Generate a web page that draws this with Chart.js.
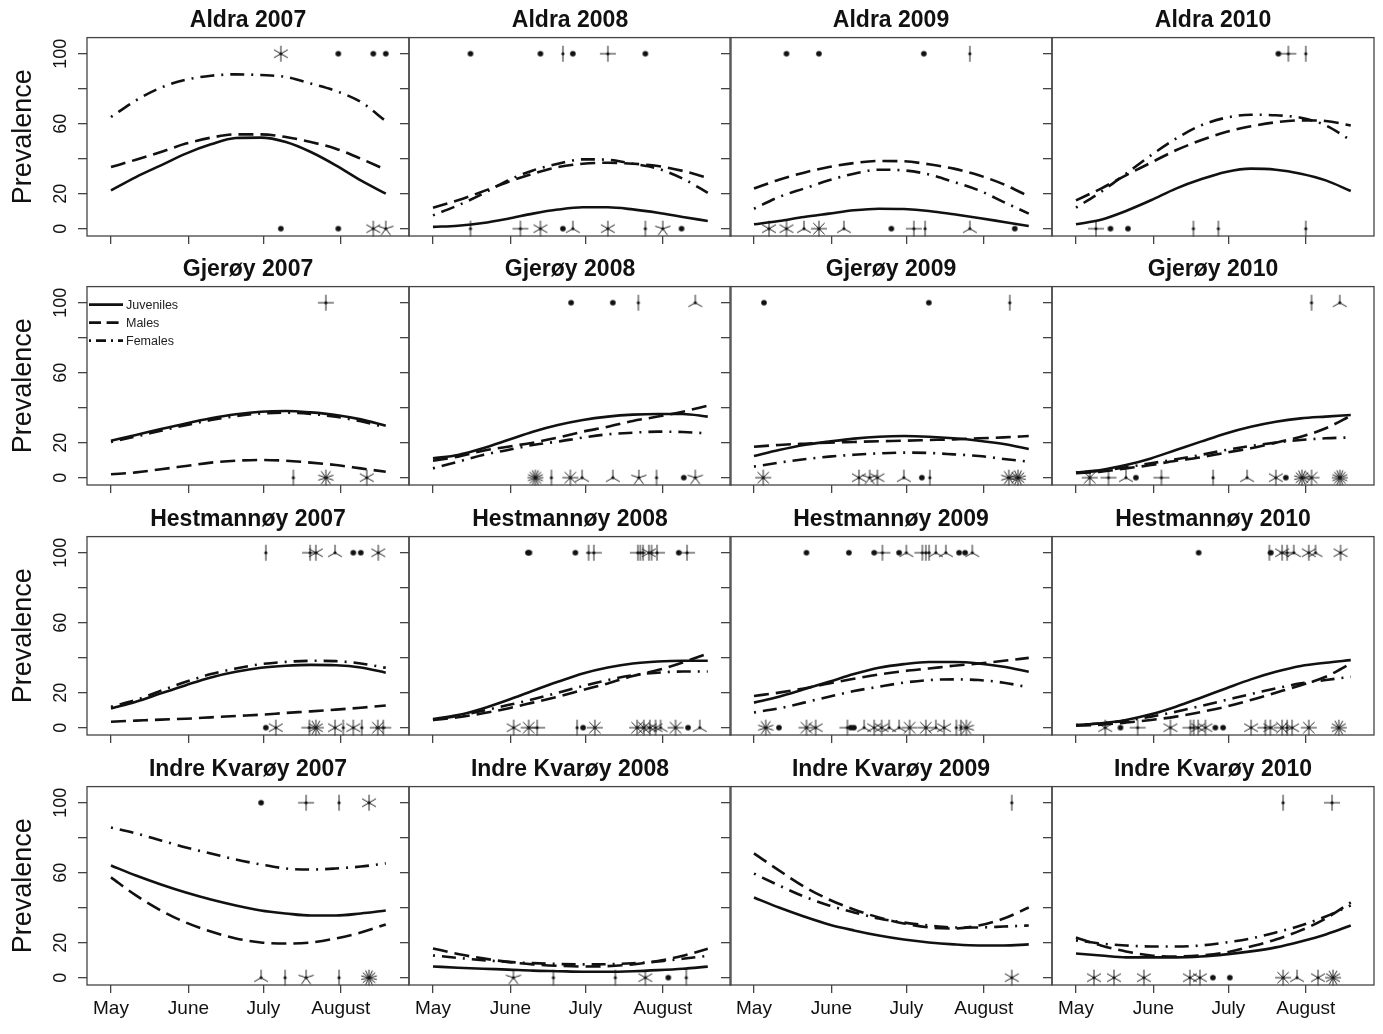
<!DOCTYPE html>
<html>
<head>
<meta charset="utf-8">
<title>Prevalence by site and year</title>
<script src="https://cdn.jsdelivr.net/npm/chart.js@4.4.1/dist/chart.umd.min.js"></script>
<style>
  html, body { margin: 0; padding: 0; background: #fff; }
  #board { position: relative; width: 1383px; height: 1034px; overflow: hidden; }
  #board canvas { position: absolute; }
</style>
</head>
<body>
<div id="board"></div>
<script>
const panelTitles = [
  'Aldra 2007', 'Aldra 2008', 'Aldra 2009', 'Aldra 2010',
  'Gjerøy 2007', 'Gjerøy 2008', 'Gjerøy 2009', 'Gjerøy 2010',
  'Hestmannøy 2007', 'Hestmannøy 2008', 'Hestmannøy 2009', 'Hestmannøy 2010',
  'Indre Kvarøy 2007', 'Indre Kvarøy 2008', 'Indre Kvarøy 2009', 'Indre Kvarøy 2010'
];

// days since 1 May at which the fitted curves were read
const curveDays = [0, 10, 20, 30, 40, 50, 60, 70, 80, 90, 100, 110];

const juveniles = [
  [21.9, 29.5, 36.2, 42.9, 48.2, 51.8, 52.0, 49.5, 43.8, 36.2, 27.6, 20],
  [1, 1.7, 3.2, 5.7, 8.6, 10.9, 12.2, 12.2, 11, 9.1, 6.7, 4.4],
  [2.5, 4.4, 6.7, 8.6, 10.5, 11.4, 11.2, 10.1, 8.2, 6.1, 3.8, 1.5],
  [2.5, 5.1, 10.1, 16.2, 22.9, 28.2, 32.4, 34.3, 33.7, 31.4, 27.6, 21.5],
  [21.1, 24.4, 27.8, 31, 33.9, 36.2, 37.7, 38.1, 37.3, 35.8, 33.3, 29.7],
  [11, 13, 16.8, 21.5, 26.3, 30.1, 33, 34.9, 36, 36.4, 36.4, 34.9],
  [12.4, 15.8, 18.7, 20.6, 22.3, 23.4, 23.8, 23.4, 22.5, 21.1, 19.2, 16.4],
  [2.9, 4.4, 7.2, 11, 15.8, 20.6, 25.3, 29.1, 32, 33.9, 34.9, 35.8],
  [11, 14.8, 19.6, 24.3, 28.7, 31.9, 34.2, 35.4, 35.9, 35.7, 34.4, 31.4],
  [4.9, 7.2, 11, 15.8, 21.1, 26.2, 31, 34.4, 36.7, 37.8, 38.2, 38.2],
  [14.3, 17.7, 21.9, 26.2, 30.6, 34.2, 36.3, 37.5, 37.5, 36.7, 34.8, 31.9],
  [1.5, 2.5, 4.4, 7.6, 12, 17.1, 22.4, 27.6, 31.9, 35.2, 37.1, 38.6],
  [64.1, 58.4, 53.3, 48.7, 44.7, 41.3, 38.4, 36.7, 35.5, 35.5, 36.7, 38.4],
  [6.4, 5.7, 5.1, 4.6, 4, 3.7, 3.4, 3.4, 3.7, 4.3, 5.1, 6.3],
  [45.8, 40.1, 35, 30.4, 27, 24.1, 21.8, 20.1, 19, 18.4, 18.4, 19],
  [13.8, 12.7, 11.6, 11.6, 11.6, 12.1, 13.3, 15, 17.3, 20.7, 24.7, 29.8]
];

const males = [
  [35.2, 39.4, 43.8, 48.6, 52, 53.9, 53.9, 52.4, 49.5, 45.7, 40, 33.7],
  [12, 16.2, 21.3, 26.7, 31.4, 35.2, 37.1, 37.7, 37.1, 35.8, 33, 29],
  [22.9, 28, 32, 35.2, 37.5, 38.7, 38.5, 36.8, 34.3, 30.5, 25.3, 18.5],
  [16.2, 22.9, 30.5, 37.7, 44.8, 50.5, 55.2, 58.5, 60.8, 61.9, 61.5, 59],
  [1.9, 3, 4.8, 6.7, 8.6, 9.7, 10.1, 9.7, 8.6, 7.2, 5.3, 3.4],
  [9.7, 12, 15.4, 17.7, 20, 22.9, 26.3, 29.1, 32.4, 34.9, 37.7, 41.1],
  [17.7, 18.7, 19.4, 20, 20.4, 20.8, 21.1, 21.5, 21.9, 22.5, 23, 23.8],
  [2.5, 3.4, 5.3, 7.2, 9.7, 11.6, 14.3, 16.8, 20, 23.4, 28.2, 35.4],
  [3.4, 4, 4.6, 5.1, 5.9, 6.7, 7.4, 8.4, 9.3, 10.3, 11.4, 12.7],
  [4.4, 5.9, 8.2, 11, 14.3, 17.7, 21.5, 25.3, 29.5, 32.9, 37.3, 42.4],
  [18.1, 20, 22.4, 25.3, 27.9, 30.4, 32.3, 33.8, 35.4, 36.7, 38.2, 39.9],
  [1.1, 1.7, 2.9, 4.4, 6.3, 8.9, 12, 15.8, 20, 24.3, 29.1, 36.7],
  [57.3, 47, 38.4, 31.5, 26.4, 22.4, 20.1, 19.5, 20.1, 22.4, 25.8, 30.4],
  [16.7, 13.5, 11, 9, 7.6, 6.8, 6.4, 6.6, 7.6, 9.5, 12.5, 16.5],
  [71, 61.3, 52.1, 44.7, 39, 34.4, 31, 28.7, 28.1, 29.8, 33.8, 40.1],
  [23, 18.4, 15, 12.7, 12.1, 12.7, 14.4, 17.8, 21.8, 27, 33.8, 43]
];

const females = [
  [63.8, 73.3, 80.6, 85.1, 87.4, 88.2, 87.8, 86.7, 82.9, 78.7, 72.4, 61.5],
  [7.6, 13.3, 20, 27.6, 33.3, 37.1, 39.6, 39.4, 37.1, 34.3, 28.6, 20.5],
  [11.4, 18.1, 22.9, 27.6, 31.4, 33.7, 33.3, 31, 26.7, 21.9, 15.2, 8.6],
  [12, 21, 31.4, 41.9, 51.4, 59, 63.4, 65.1, 64.8, 63.4, 59, 50.5],
  [20.4, 23.5, 26.8, 30, 32.9, 35.2, 36.7, 37.1, 36.4, 34.8, 32.2, 28.8],
  [5.3, 9.1, 13, 15.8, 18.7, 20.6, 22.9, 24.8, 25.7, 26.3, 26.1, 25.3],
  [6.3, 8.6, 10.5, 12, 13.1, 13.9, 14.3, 14.1, 13.3, 12.4, 10.7, 9.1],
  [2.9, 4, 5.9, 8.2, 10.5, 13, 15.8, 18.1, 20, 21.5, 22.5, 23],
  [12, 15.8, 21.1, 26.2, 30.6, 33.8, 36.3, 37.6, 38.2, 38, 36.7, 34.2],
  [4.4, 6.7, 9.7, 12.9, 16.2, 20, 23.8, 27.2, 30, 31.4, 32.1, 32.1],
  [8.7, 11, 14.3, 17.7, 20.9, 23.4, 25.7, 27.2, 27.6, 27.2, 25.7, 23],
  [1.5, 2.5, 4, 6.3, 9.1, 12.4, 15.8, 19.2, 22.4, 25.3, 27.2, 29.1],
  [85.8, 82.4, 78.4, 74.4, 71, 67.5, 64.7, 62.4, 61.8, 62.4, 63.5, 65.3],
  [12.7, 11.3, 10, 9, 8.3, 7.8, 7.6, 7.7, 8.2, 9.2, 10.8, 12.5],
  [59.5, 52.7, 46.4, 41.3, 37.3, 33.8, 31.5, 29.8, 28.7, 28.7, 29.2, 29.8],
  [21.3, 19.5, 18.4, 17.8, 17.8, 18.4, 20.1, 22.4, 25.8, 29.8, 35, 41.3]
];

// sunflower points: [day since 1 May, number of fish at that spot]
const topFlowers = [
  [[68, 6], [91, 1], [105, 1], [110, 1]],
  [[15, 1], [43, 1], [52, 2], [56, 1], [70, 4], [85, 1]],
  [[13, 1], [26, 1], [68, 1], [86.4, 2]],
  [[81, 1], [85, 4], [92, 2]],
  [[86, 4]],
  [[55.3, 1], [72, 1], [82.2, 2], [105, 3]],
  [[4, 1], [70, 1], [102.4, 2]],
  [[94.3, 2], [105.6, 3]],
  [[62, 2], [79.7, 4], [82, 6], [89.7, 3], [97, 1], [100, 1], [107, 6]],
  [[38, 1], [38.6, 1], [57, 1], [62.3, 2], [64.4, 4], [82, 4], [83, 2], [84.1, 2], [86.4, 6], [87.5, 2], [89.7, 4], [98.4, 1], [101.7, 4]],
  [[21, 1], [38, 1], [48.1, 1], [51.4, 4], [58.1, 1], [61, 3], [67.4, 4], [68.8, 2], [70.1, 2], [72.8, 3], [76.8, 3], [82.1, 1], [84.5, 1], [87.4, 3]],
  [[49.1, 1], [77.4, 2], [78, 1], [82.5, 6], [84.5, 4], [87.2, 3], [93.2, 6], [95.9, 3], [105.9, 6]],
  [[60.1, 1], [78.1, 4], [91.3, 2], [103.3, 6]],
  [],
  [[103.2, 2]],
  [[82.9, 2], [102.5, 4]]
];

const bottomFlowers = [
  [[68, 1], [91, 1], [105, 6], [110, 5]],
  [[15, 2], [35, 4], [43, 6], [52, 1], [56, 3], [70, 6], [85, 2], [92, 5], [99.5, 1]],
  [[6, 6], [13, 6], [20, 3], [26, 8], [36, 3], [55, 1], [64, 4], [68.5, 2], [86.4, 3], [104.4, 1]],
  [[8, 4], [13.8, 1], [20.8, 1], [47, 2], [57, 2], [92, 2]],
  [[73, 2], [86, 10], [102.4, 6]],
  [[41, 16], [47.4, 2], [55, 8], [59.7, 3], [72, 3], [82.4, 5], [89.5, 2], [100.4, 1], [105, 5]],
  [[3.7, 8], [42, 6], [46.3, 5], [49.4, 6], [60, 3], [67.2, 1], [70.4, 2], [102, 10], [105.7, 14]],
  [[5.5, 8], [13, 4], [20, 3], [24, 1], [34.2, 4], [54.9, 2], [68.5, 3], [80, 6], [84, 1], [90.5, 14], [94.3, 8], [105.6, 16]],
  [[62, 1], [66, 6], [79.4, 4], [82, 12], [89.7, 6], [93, 2], [97, 6], [100.4, 2], [106.8, 8], [109, 4]],
  [[32.3, 6], [38.3, 8], [41.7, 4], [57.7, 2], [60.1, 1], [64.8, 8], [81.7, 8], [84.4, 8], [86.8, 6], [89.1, 6], [91.1, 3], [97.1, 8], [102.1, 1], [106.8, 3]],
  [[4.7, 10], [10, 1], [21, 8], [24.7, 6], [37.4, 4], [38.7, 1], [40, 1], [44.1, 3], [48.1, 6], [51.1, 6], [54.1, 3], [58.1, 3], [62.3, 8], [68.8, 8], [72.8, 3], [76.1, 6], [81, 2], [82.8, 2], [85, 10]],
  [[11.7, 6], [17.8, 1], [24.7, 4], [37.8, 6], [45.8, 4], [47.1, 2], [48.9, 6], [51.8, 6], [55.8, 1], [58.9, 1], [70.1, 6], [75.8, 4], [77.8, 6], [82.5, 8], [84.5, 2], [86.5, 6], [93.2, 8], [105.2, 12]],
  [[60.1, 3], [69.7, 2], [78.1, 5], [91.3, 2], [103.3, 14]],
  [[32.2, 5], [48.2, 2], [73, 2], [85, 6], [94.2, 1], [101.4, 2]],
  [[103.2, 6]],
  [[7.2, 6], [15.2, 6], [27.2, 6], [45.6, 6], [49.6, 6], [54.8, 1], [61.6, 1], [82.9, 8], [88.5, 3], [96.9, 6], [102.9, 12]]
];

const monthDays = [0, 31, 61, 92];
const monthLabels = ['May', 'June', 'July', 'August'];
const yTicks = [0, 20, 40, 60, 80, 100];
const yLabelsShown = [0, 20, 60, 100];
const legendNames = ['Juveniles', 'Males', 'Females'];

const FONT = "'Liberation Sans', Arial, Helvetica, sans-serif";
const INK = '#111';
const FRAME = '#444';
const DASHES = [[], [15, 7], [2, 7, 14, 7]];

// panel geometry (plot boxes touch each other)
const PLOT_LEFT = 87, PLOT_TOP = 37.4, PLOT_W = 321.7, ROW_STEP = 249.6;
const AXIS_W = 87, TITLE_H = 36.6, AXIS_H = 50, PAD_R = 3;
const CANVAS_W = 412, CANVAS_H = 285;

const flowerCache = {};
function flowerImage(n) {
  if (flowerCache[n]) return flowerCache[n];
  const size = 22, c = size / 2, petal = 8;
  const cv = document.createElement('canvas');
  cv.width = size;
  cv.height = size;
  const g = cv.getContext('2d');
  if (n > 1) {
    g.strokeStyle = '#222';
    g.lineWidth = 1;
    for (let k = 1; k <= n; k++) {
      const a = 2 * Math.PI * k / n;
      g.beginPath();
      g.moveTo(c, c);
      g.lineTo(c + petal * Math.sin(a), c - petal * Math.cos(a));
      g.stroke();
    }
  }
  g.fillStyle = INK;
  g.beginPath();
  g.arc(c, c, n > 1 ? 1.6 : 2.8, 0, Math.PI * 2);
  g.fill();
  flowerCache[n] = cv;
  return cv;
}

const framePlugin = {
  id: 'frame',
  afterDraw(chart) {
    const { ctx, chartArea: a } = chart;
    ctx.save();
    ctx.strokeStyle = FRAME;
    ctx.lineWidth = 1.3;
    ctx.strokeRect(a.left, a.top, a.right - a.left, a.bottom - a.top);
    ctx.restore();
  }
};

// legend sits inside the Gjerøy 2007 panel only
const legendPlugin = {
  id: 'innerLegend',
  afterDraw(chart, args, opts) {
    if (!opts.show) return;
    const { ctx, chartArea: a } = chart;
    ctx.save();
    ctx.font = '12.5px ' + FONT;
    ctx.textBaseline = 'middle';
    legendNames.forEach((name, k) => {
      const y = a.top + 18 + k * 18;
      ctx.strokeStyle = INK;
      ctx.lineWidth = 2.6;
      ctx.setLineDash(k === 2 ? [2, 5, 10, 5] : DASHES[k].map(v => v * 0.8));
      ctx.beginPath();
      ctx.moveTo(a.left + 2, y);
      ctx.lineTo(a.left + 36, y);
      ctx.stroke();
      ctx.setLineDash([]);
      ctx.fillStyle = '#222';
      ctx.fillText(name, a.left + 39, y + 1);
    });
    ctx.restore();
  }
};

function curveDataset(values, dash) {
  return {
    type: 'line',
    data: curveDays.map((d, k) => ({ x: d, y: values[k] })),
    borderColor: INK,
    borderWidth: 2.6,
    borderDash: dash,
    cubicInterpolationMode: 'monotone',
    pointRadius: 0,
    fill: false
  };
}

function flowerDataset(top, bottom) {
  const pts = top.map(([d, n]) => ({ x: d, y: 100, n }))
    .concat(bottom.map(([d, n]) => ({ x: d, y: 0, n })));
  return {
    type: 'line',
    showLine: false,
    data: pts,
    clip: false,
    pointRadius: 8,
    pointStyle: ctx => (ctx.raw ? flowerImage(ctx.raw.n) : 'circle')
  };
}

const board = document.getElementById('board');

panelTitles.forEach((title, i) => {
  const r = Math.floor(i / 4), c = i % 4;
  const plotLeft = PLOT_LEFT + c * PLOT_W;
  const plotTop = PLOT_TOP + r * ROW_STEP;

  const canvas = document.createElement('canvas');
  canvas.width = CANVAS_W;
  canvas.height = CANVAS_H;
  canvas.style.left = Math.round(plotLeft - AXIS_W) + 'px';
  canvas.style.top = Math.round(plotTop - TITLE_H) + 'px';
  canvas.style.width = CANVAS_W + 'px';
  canvas.style.height = CANVAS_H + 'px';
  board.appendChild(canvas);

  const tickGrid = len => ({
    drawOnChartArea: false,
    drawTicks: true,
    tickLength: len,
    color: FRAME,
    lineWidth: 1.3
  });

  new Chart(canvas, {
    type: 'line',
    data: {
      datasets: [
        curveDataset(juveniles[i], DASHES[0]),
        curveDataset(males[i], DASHES[1]),
        curveDataset(females[i], DASHES[2]),
        flowerDataset(topFlowers[i], bottomFlowers[i])
      ]
    },
    options: {
      responsive: false,
      animation: false,
      events: [],
      layout: { autoPadding: false, padding: { left: 0, right: PAD_R, top: 0, bottom: 0 } },
      plugins: {
        legend: { display: false },
        tooltip: { enabled: false },
        title: {
          display: true,
          text: title,
          fullSize: false,
          color: INK,
          font: { family: FONT, size: 23, weight: 'bold' },
          padding: { top: 6, bottom: 3 }
        },
        innerLegend: { show: i === 4 }
      },
      scales: {
        x: {
          type: 'linear',
          min: -9.6,
          max: 119.3,
          afterBuildTicks: s => { s.ticks = monthDays.map(v => ({ value: v })); },
          afterFit: s => {
            s.height = AXIS_H;
            s.paddingLeft = 0;
            s.paddingRight = 0;
          },
          border: { display: false },
          grid: tickGrid(8),
          ticks: {
            autoSkip: false,
            minRotation: 0,
            maxRotation: 0,
            padding: 4,
            color: r === 3 ? INK : 'rgba(0,0,0,0)',
            font: { family: FONT, size: 19 },
            callback: v => monthLabels[monthDays.indexOf(v)]
          }
        },
        y: {
          type: 'linear',
          min: -4.2,
          max: 109.2,
          afterBuildTicks: s => { s.ticks = yTicks.map(v => ({ value: v })); },
          afterFit: s => {
            s.width = AXIS_W;
            s.paddingTop = 0;
            s.paddingBottom = 0;
          },
          border: { display: false },
          grid: tickGrid(9),
          title: {
            display: c === 0,
            text: 'Prevalence',
            color: INK,
            font: { family: FONT, size: 27 },
            padding: { top: 7, bottom: 0 }
          },
          ticks: {
            autoSkip: false,
            minRotation: 90,
            maxRotation: 90,
            crossAlign: 'center',
            padding: 2,
            color: c === 0 ? INK : 'rgba(0,0,0,0)',
            font: { family: FONT, size: 18 },
            callback: v => (yLabelsShown.includes(v) ? String(v) : '')
          }
        }
      }
    },
    plugins: [framePlugin, legendPlugin]
  });
});
</script>
</body>
</html>
